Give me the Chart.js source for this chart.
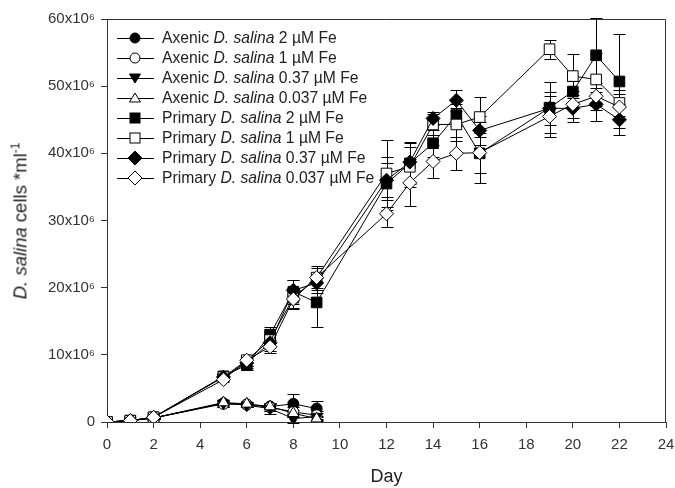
<!DOCTYPE html>
<html>
<head>
<meta charset="utf-8">
<script src="https://cdn.jsdelivr.net/npm/chart.js@4/dist/chart.umd.min.js"></script>
<style>
  body { margin: 0; background: #fff; }
  #wrap { position: relative; width: 675px; height: 488px; font-family: "Liberation Sans", Arial, sans-serif; color: #222; }
  #legend { position: absolute; left: 117px; top: 28px; font-size: 15.7px; }
  .row { display: flex; align-items: center; height: 20px; white-space: nowrap; }
  .row svg { margin-right: 8px; }
  #ytitle { position: absolute; left: 20px; top: 221px; transform: translate(-50%, -50%) rotate(-90deg); font-size: 18.5px; white-space: nowrap; }
  #ytitle sup { font-size: 12px; }
</style>
</head>
<body>
<div id="wrap">
  <canvas id="chart" width="675" height="488"></canvas>
  <div id="legend"></div>
  <div id="ytitle"><i>D. salina</i> cells *ml<sup>-1</sup></div>
</div>
<script>
// sampling days
const axenicDays = [0, 1, 2, 5, 6, 7, 8, 9];
const primaryDays = [0, 1, 2, 5, 6, 7, 8, 9, 12, 13, 14, 15, 16, 19, 20, 21, 22];

// cell counts, x10^6 cells/ml
const axenic2 = [0, 0.2, 0.6, 2.8, 2.6, 2.3, 2.7, 2.0];
const axenic1 = [0, 0.2, 0.6, 2.7, 2.6, 2.2, 1.5, 1.0];
const axenic037 = [0, 0.2, 0.6, 2.8, 2.5, 2.0, 0.5, 0.8];
const axenic0037 = [0, 0.2, 0.6, 2.9, 2.7, 2.3, 1.3, 0.5];

const primary2 = [0, 0.2, 0.7, 6.8, 8.5, 13.0, 19.4, 17.8, 35.5, 38.5, 41.5, 45.7, 40.0, 46.8, 49.2, 54.6, 50.7];
const primary1 = [0, 0.2, 0.7, 6.7, 9.2, 12.2, 18.5, 21.5, 37.0, 38.0, 44.3, 44.3, 45.4, 55.5, 51.5, 51.0, 47.5];
const primary037 = [0, 0.2, 0.7, 6.7, 8.8, 11.8, 19.6, 20.7, 36.0, 38.7, 45.2, 47.9, 43.4, 46.7, 46.7, 47.3, 45.0];
const primary0037 = [0, 0.2, 0.7, 6.3, 9.2, 11.2, 18.3, 21.5, 31.0, 35.6, 38.8, 40.0, 40.1, 45.5, 47.3, 48.5, 46.9];

// standard deviations
const axenic2Err = [0, 0, 0.1, 0.5, 0.4, 0.6, 1.5, 1.2];
const axenic1Err = [0, 0, 0.1, 0.4, 0.3, 0.5, 0.8, 0.6];
const axenic037Err = [0, 0, 0.1, 0.4, 0.3, 0.8, 0.7, 0.5];
const axenic0037Err = [0, 0, 0.1, 0.4, 0.3, 0.4, 0.5, 0.4];

const primary2Err = [0, 0, 0.1, 0.5, 0.8, 1.2, 1.8, 3.7, 4.0, 3.0, 2.0, 1.6, 3.0, 3.8, 1.5, 5.5, 7.0];
const primary1Err = [0, 0, 0.1, 0.5, 0.8, 1.0, 1.5, 1.8, 5.0, 3.0, 1.5, 2.5, 3.0, 1.4, 3.3, 4.0, 2.0];
const primary037Err = [0, 0, 0.1, 0.5, 0.8, 1.2, 1.5, 1.5, 2.5, 3.0, 1.0, 1.6, 2.2, 2.5, 2.0, 2.5, 2.3];
const primary0037Err = [0, 0, 0.1, 0.4, 0.8, 1.0, 1.5, 1.5, 2.0, 3.5, 2.5, 2.5, 4.5, 3.0, 2.0, 2.0, 2.0];

const strains = ["Axenic", "Axenic", "Axenic", "Axenic", "Primary", "Primary", "Primary", "Primary"];
const ironLevels = ["2", "1", "0.37", "0.037", "2", "1", "0.37", "0.037"];

const xTicks = [0, 2, 4, 6, 8, 10, 12, 14, 16, 18, 20, 22, 24];
const yTicks = [0, 10, 20, 30, 40, 50, 60];

const seriesValues = [axenic2, axenic1, axenic037, axenic0037, primary2, primary1, primary037, primary0037];
const seriesErrors = [axenic2Err, axenic1Err, axenic037Err, axenic0037Err, primary2Err, primary1Err, primary037Err, primary0037Err];

// marker look for each series
const markers = [
  { style: "circle", radius: 5.5, fill: "#000", rotation: 0 },
  { style: "circle", radius: 5.5, fill: "#fff", rotation: 0 },
  { style: "triangle", radius: 6.5, fill: "#000", rotation: 180 },
  { style: "triangle", radius: 6.5, fill: "#fff", rotation: 0 },
  { style: "rect", radius: 7.5, fill: "#000", rotation: 0 },
  { style: "rect", radius: 7.5, fill: "#fff", rotation: 0 },
  { style: "rectRot", radius: 7, fill: "#000", rotation: 0 },
  { style: "rectRot", radius: 7, fill: "#fff", rotation: 0 },
];

const datasets = seriesValues.map((vals, i) => {
  const days = strains[i] === "Axenic" ? axenicDays : primaryDays;
  return {
    label: `${strains[i]} D. salina ${ironLevels[i]} µM Fe`,
    data: vals.map((v, j) => ({ x: days[j], y: v })),
    errors: seriesErrors[i],
    borderColor: "#000",
    borderWidth: 1,
    backgroundColor: markers[i].fill,
    pointStyle: markers[i].style,
    pointRadius: markers[i].radius,
    pointRotation: markers[i].rotation,
    pointBorderColor: "#000",
    pointBorderWidth: 1,
    pointBackgroundColor: markers[i].fill,
    tension: 0,
    order: -i,
  };
});

const errorBars = {
  id: "errorBars",
  beforeDatasetsDraw(chart) {
    const ctx = chart.ctx;
    const yScale = chart.scales.y;
    ctx.save();
    ctx.strokeStyle = "#000";
    ctx.lineWidth = 1;
    chart.data.datasets.forEach((ds, i) => {
      const meta = chart.getDatasetMeta(i);
      meta.data.forEach((pt, j) => {
        const e = ds.errors[j];
        if (!e) return;
        const v = ds.data[j].y;
        const top = Math.round(yScale.getPixelForValue(v + e)) + 0.5;
        const bot = Math.round(yScale.getPixelForValue(v - e)) + 0.5;
        const x = Math.round(pt.x) + 0.5;
        ctx.beginPath();
        ctx.moveTo(x, top); ctx.lineTo(x, bot);
        ctx.moveTo(x - 6, top); ctx.lineTo(x + 6, top);
        ctx.moveTo(x - 6, bot); ctx.lineTo(x + 6, bot);
        ctx.stroke();
      });
    });
    ctx.restore();
  },
};

const frame = {
  id: "frame",
  afterDraw(chart) {
    const { ctx, chartArea: a } = chart;
    ctx.save();
    ctx.strokeStyle = "#333";
    ctx.lineWidth = 1;
    ctx.beginPath();
    ctx.moveTo(Math.round(a.left) + 0.5, Math.round(a.top) + 0.5);
    ctx.lineTo(Math.round(a.right) - 0.5, Math.round(a.top) + 0.5);
    ctx.lineTo(Math.round(a.right) - 0.5, Math.round(a.bottom));
    ctx.stroke();
    ctx.restore();
  },
};

const tickFont = { family: "'Liberation Sans', Arial, sans-serif", size: 15 };

new Chart(document.getElementById("chart").getContext("2d"), {
  type: "line",
  data: { datasets: datasets },
  options: {
    responsive: false,
    animation: false,
    layout: { padding: { top: 19, right: 9, left: 0, bottom: 0 } },
    plugins: { legend: { display: false }, tooltip: { enabled: false } },
    scales: {
      x: {
        type: "linear",
        min: 0,
        max: 24,
        afterBuildTicks: (s) => { s.ticks = xTicks.map((v) => ({ value: v })); },
        afterFit: (s) => { s.height = 66; s.paddingLeft = 0; s.paddingRight = 0; },
        ticks: { font: tickFont, color: "#333", padding: 8, maxRotation: 0 },
        grid: { drawOnChartArea: false, drawTicks: true, tickLength: 6, color: "#333" },
        border: { color: "#333" },
        title: { display: true, text: "Day", font: { family: "'Liberation Sans', Arial, sans-serif", size: 18 }, color: "#222", padding: { top: 0, bottom: 0 } },
      },
      y: {
        type: "linear",
        min: 0,
        max: 60,
        afterBuildTicks: (s) => { s.ticks = yTicks.map((v) => ({ value: v })); },
        afterFit: (s) => { s.width = 107; s.paddingTop = 0; s.paddingBottom = 0; },
        ticks: { font: tickFont, color: "#333", padding: 6, callback: (v) => (v === 0 ? "0" : v + "x10⁶") },
        grid: { drawOnChartArea: false, drawTicks: true, tickLength: 6, color: "#333" },
        border: { color: "#333" },
      },
    },
  },
  plugins: [errorBars, frame],
});

// legend with line-and-marker swatches
const legend = document.getElementById("legend");
markers.forEach((m, i) => {
  let shape = "";
  if (m.style === "circle") shape = `<circle cx="18" cy="7" r="5" fill="${m.fill}" stroke="#000"/>`;
  else if (m.style === "rect") shape = `<rect x="13" y="2" width="10" height="10" fill="${m.fill}" stroke="#000"/>`;
  else if (m.style === "rectRot") shape = `<polygon points="18,0 25,7 18,14 11,7" fill="${m.fill}" stroke="#000"/>`;
  else if (m.rotation === 180) shape = `<polygon points="12.5,3 23.5,3 18,12" fill="${m.fill}" stroke="#000"/>`;
  else shape = `<polygon points="18,2 23.5,11 12.5,11" fill="${m.fill}" stroke="#000"/>`;
  const row = document.createElement("div");
  row.className = "row";
  row.innerHTML = `<svg width="37" height="14"><line x1="0" y1="7.5" x2="37" y2="7.5" stroke="#000"/>${shape}</svg>` +
    `<span>${strains[i]} <i>D. salina</i> ${ironLevels[i]} µM Fe</span>`;
  legend.appendChild(row);
});
</script>
</body>
</html>
